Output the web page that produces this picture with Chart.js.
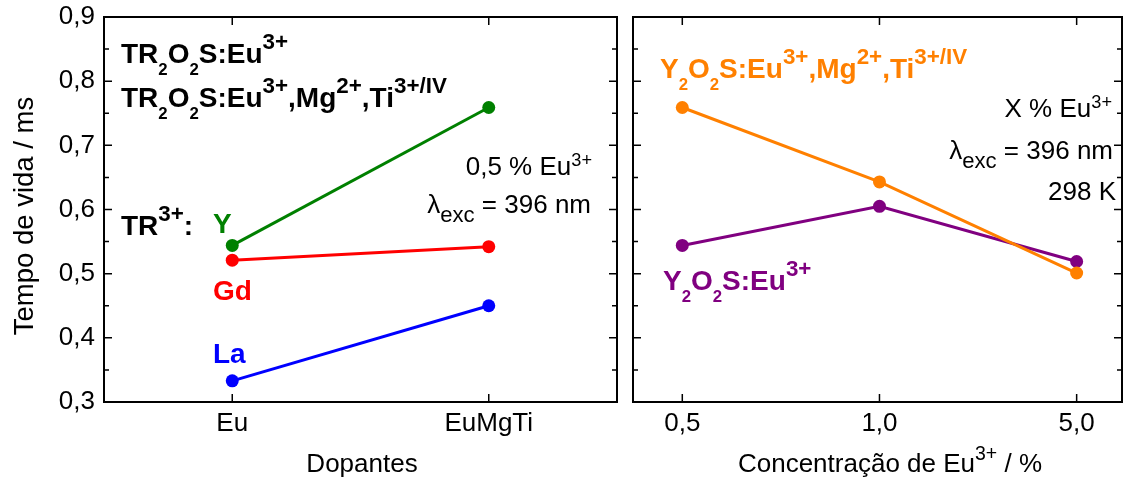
<!DOCTYPE html>
<html>
<head>
<meta charset="utf-8">
<script src="https://cdn.jsdelivr.net/npm/chart.js@4.4.1/dist/chart.umd.min.js"></script>
<style>
  html, body { margin: 0; padding: 0; background: #fff; }
  #wrap { position: relative; width: 1138px; height: 481px; }
  canvas { position: absolute; top: 0; }
  #left { left: 0; width: 624px; height: 481px; }
  #right { left: 620px; width: 518px; height: 481px; }
</style>
</head>
<body>
<div id="wrap">
  <canvas id="left" width="624" height="481"></canvas>
  <canvas id="right" width="518" height="481"></canvas>
</div>
<script>
// ========== DATA ==========
const dopants = ['Eu', 'EuMgTi'];
const lifeY = [0.544, 0.759];
const lifeGd = [0.521, 0.542];
const lifeLa = [0.333, 0.450];

const concLabels = ['0,5', '1,0', '5,0'];
const lifeEuMgTi = [0.759, 0.643, 0.501];
const lifeEu = [0.544, 0.605, 0.519];

const yTicks = [0.3, 0.4, 0.5, 0.6, 0.7, 0.8, 0.9];

const FONT = '"Liberation Sans", Arial, sans-serif';
const C = { Y: '#008000', Gd: '#ff0000', La: '#0000ff', orange: '#ff8000', purple: '#800080' };

// ========== RICH TEXT (sub/sup) ==========
const BOLD = { size: 28, bold: true, supS: 0.8, supR: 0.5, subS: 0.6, subD: 0.44 };
const NORM = { size: 26, bold: false, supS: 0.7, supR: 0.36, subS: 0.85, subD: 0.33 };

function fontOf(o, scale) {
    return (o.bold ? 'bold ' : '') + (o.size * scale).toFixed(1) + 'px ' + FONT;
}

function drawRich(ctx, segs, x, y, o, color, align) {
    ctx.save();
    ctx.fillStyle = color || '#000';
    ctx.textBaseline = 'alphabetic';
    ctx.textAlign = 'left';
    const parts = segs.map(([t, k]) => {
        const s = k === 'sup' ? o.supS : (k === 'sub' ? o.subS : 1);
        ctx.font = fontOf(o, s);
        const dy = k === 'sup' ? -o.supR * o.size : (k === 'sub' ? o.subD * o.size : 0);
        return { t, s, dy, w: ctx.measureText(t).width };
    });
    const total = parts.reduce((a, p) => a + p.w, 0);
    let cx = align === 'right' ? x - total : (align === 'center' ? x - total / 2 : x);
    parts.forEach(p => {
        ctx.font = fontOf(o, p.s);
        ctx.fillText(p.t, cx, y + p.dy);
        cx += p.w;
    });
    ctx.restore();
}

// ========== FRAME + TICKS ==========
function drawFrame(chart) {
    const { ctx, chartArea: a, scales } = chart;
    const ys = scales.y, xs = scales.x;
    ctx.save();
    ctx.strokeStyle = '#000';
    ctx.lineWidth = 2;
    ctx.strokeRect(a.left, a.top, a.right - a.left, a.bottom - a.top);
    ctx.lineWidth = 1.5;
    ctx.beginPath();
    yTicks.forEach((v, i) => {
        const py = ys.getPixelForValue(v);
        ctx.moveTo(a.left, py); ctx.lineTo(a.left + 8, py);
        ctx.moveTo(a.right, py); ctx.lineTo(a.right - 8, py);
        if (i < yTicks.length - 1) {
            const pm = ys.getPixelForValue(v + 0.05);
            ctx.moveTo(a.left, pm); ctx.lineTo(a.left + 5, pm);
            ctx.moveTo(a.right, pm); ctx.lineTo(a.right - 5, pm);
        }
    });
    xs.ticks.forEach((t, i) => {
        const px = xs.getPixelForTick(i);
        ctx.moveTo(px, a.top); ctx.lineTo(px, a.top + 8);
        ctx.moveTo(px, a.bottom); ctx.lineTo(px, a.bottom - 8);
    });
    ctx.stroke();
    ctx.restore();
}

function lineSet(data, color) {
    return {
        data: data, borderColor: color, backgroundColor: color,
        pointBackgroundColor: color, pointBorderWidth: 0, pointRadius: 6.5,
        borderWidth: 3, tension: 0
    };
}

// no extra padding from tick labels, so the plot box lands where we want it
function noPad(s) { s.paddingTop = 0; s.paddingBottom = 0; s.paddingLeft = 0; s.paddingRight = 0; }

const yScale = {
    min: 0.3, max: 0.9,
    afterBuildTicks: s => { s.ticks = yTicks.map(v => ({ value: v })); },
    grid: { display: false, drawTicks: false },
    border: { display: false },
    ticks: { font: { family: FONT, size: 26 }, color: '#000', padding: 9,
             callback: v => v.toFixed(1).replace('.', ',') }
};

// ========== LEFT PANEL ==========
const leftNotes = {
    id: 'leftNotes',
    afterDraw(chart) {
        const ctx = chart.ctx;
        drawFrame(chart);
        drawRich(ctx, [['TR'], ['2', 'sub'], ['O'], ['2', 'sub'], ['S:Eu'], ['3+', 'sup']], 121, 63, BOLD);
        drawRich(ctx, [['TR'], ['2', 'sub'], ['O'], ['2', 'sub'], ['S:Eu'], ['3+', 'sup'], [',Mg'], ['2+', 'sup'], [',Ti'], ['3+/IV', 'sup']], 121, 107, BOLD);
        drawRich(ctx, [['TR'], ['3+', 'sup'], [':']], 121, 235, BOLD);
        drawRich(ctx, [['Y']], 213, 233, BOLD, C.Y);
        drawRich(ctx, [['Gd']], 213, 300, BOLD, C.Gd);
        drawRich(ctx, [['La']], 213, 363, BOLD, C.La);
        drawRich(ctx, [['0,5 % Eu'], ['3+', 'sup']], 592, 175, NORM, '#000', 'right');
        drawRich(ctx, [['λ'], ['exc', 'sub'], [' = 396 nm']], 591, 213, NORM, '#000', 'right');
        drawRich(ctx, [['Dopantes']], 362, 472, NORM, '#000', 'center');
        ctx.save();
        ctx.translate(33, 216);
        ctx.rotate(-Math.PI / 2);
        drawRich(ctx, [['Tempo de vida / ms']], 0, 0, Object.assign({}, NORM, { size: 27.5 }), '#000', 'center');
        ctx.restore();
    }
};

new Chart(document.getElementById('left'), {
    type: 'line',
    data: {
        labels: dopants,
        datasets: [lineSet(lifeY, C.Y), lineSet(lifeGd, C.Gd), lineSet(lifeLa, C.La)]
    },
    options: {
        responsive: false, animation: false, devicePixelRatio: 1,
        layout: { padding: { left: 0, top: 17, right: 7, bottom: 0 } },
        plugins: { legend: { display: false }, tooltip: { enabled: false } },
        scales: {
            x: {
                type: 'category', offset: true,
                afterFit: s => { s.height = 79; noPad(s); },
                grid: { display: false, drawTicks: false },
                border: { display: false },
                ticks: { font: { family: FONT, size: 26 }, color: '#000', padding: 6 }
            },
            y: Object.assign({}, yScale, { afterFit: s => { s.width = 104; noPad(s); } })
        }
    },
    plugins: [leftNotes]
});

// ========== RIGHT PANEL ==========
const rightNotes = {
    id: 'rightNotes',
    afterDraw(chart) {
        const ctx = chart.ctx;
        drawFrame(chart);
        drawRich(ctx, [['Y'], ['2', 'sub'], ['O'], ['2', 'sub'], ['S:Eu'], ['3+', 'sup'], [',Mg'], ['2+', 'sup'], [',Ti'], ['3+/IV', 'sup']], 40, 78, BOLD, C.orange);
        drawRich(ctx, [['Y'], ['2', 'sub'], ['O'], ['2', 'sub'], ['S:Eu'], ['3+', 'sup']], 43, 290, BOLD, C.purple);
        drawRich(ctx, [['X % Eu'], ['3+', 'sup']], 492, 117, NORM, '#000', 'right');
        drawRich(ctx, [['λ'], ['exc', 'sub'], [' = 396 nm']], 493, 159, NORM, '#000', 'right');
        drawRich(ctx, [['298 K']], 496, 200, NORM, '#000', 'right');
        drawRich(ctx, [['Concentração de Eu'], ['3+', 'sup'], [' / %']], 270, 472,
                 Object.assign({}, NORM, { supS: 0.75, supR: 0.45 }), '#000', 'center');
    }
};

new Chart(document.getElementById('right'), {
    type: 'line',
    data: {
        datasets: [
            lineSet(lifeEuMgTi.map((v, i) => ({ x: i, y: v })), C.orange),
            lineSet(lifeEu.map((v, i) => ({ x: i, y: v })), C.purple)
        ]
    },
    options: {
        responsive: false, animation: false, devicePixelRatio: 1,
        layout: { padding: { left: 13, top: 17, right: 16, bottom: 0 } },
        plugins: { legend: { display: false }, tooltip: { enabled: false } },
        scales: {
            x: {
                type: 'linear', min: -0.25, max: 2.23,
                afterBuildTicks: s => { s.ticks = concLabels.map((_, i) => ({ value: i })); },
                afterFit: s => { s.height = 79; noPad(s); },
                grid: { display: false, drawTicks: false },
                border: { display: false },
                ticks: { font: { family: FONT, size: 26 }, color: '#000', padding: 6,
                         callback: v => concLabels[v] }
            },
            y: Object.assign({}, yScale, { display: false })
        }
    },
    plugins: [rightNotes]
});
</script>
</body>
</html>
